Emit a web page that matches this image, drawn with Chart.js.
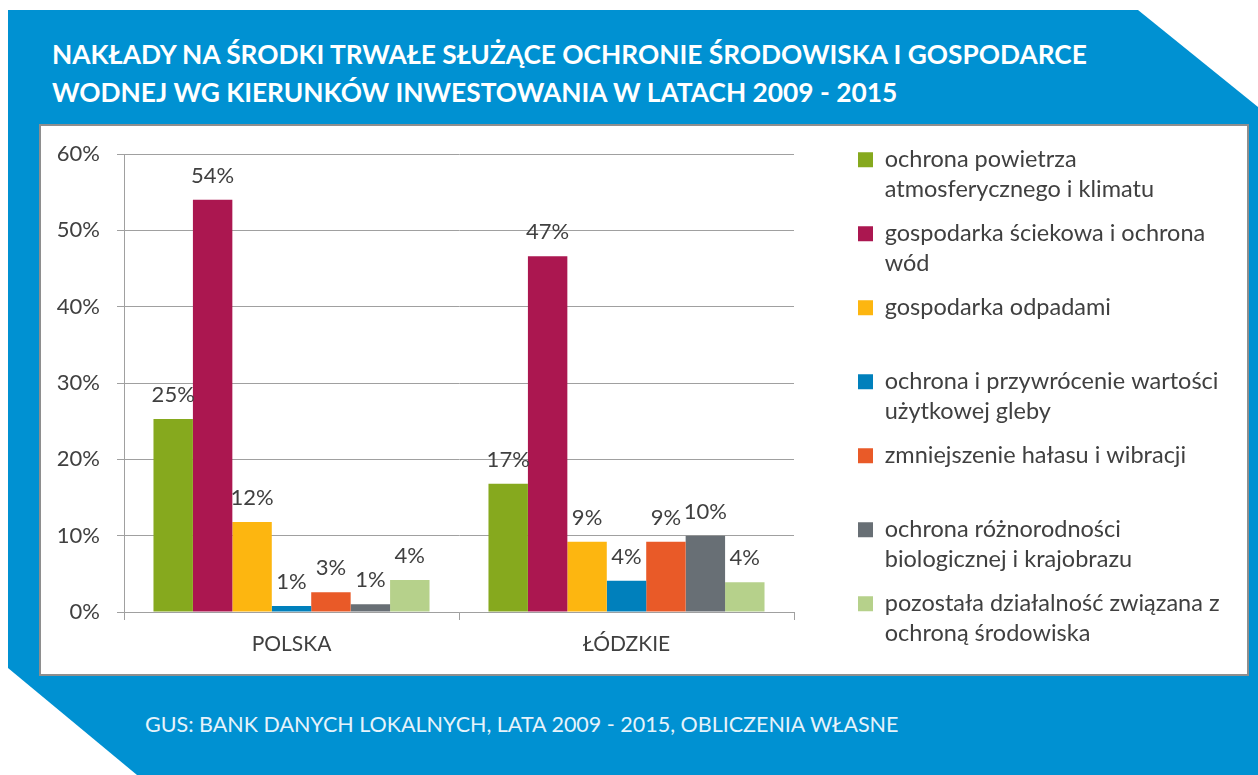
<!DOCTYPE html>
<html lang="pl">
<head>
  <meta charset="UTF-8">
  <title>Nakłady na środki trwałe służące ochronie środowiska</title>
  <script src="https://cdn.jsdelivr.net/npm/chart.js"></script>
  <style>
    body { margin: 0; width: 1258px; height: 775px; position: relative; overflow: hidden; background: #fff; font-family: Lato, sans-serif; }
    .bg { position: absolute; left: 0; top: 0; width: 1258px; height: 775px; background: #0091d2;
          clip-path: polygon(8px 10px, 1138px 10px, 1258px 107px, 1258px 775px, 137px 775px, 8px 668px); }
    h1 { position: absolute; left: 52px; top: 35px; margin: 0; color: #fff; font-size: 26.3px; line-height: 38px; font-weight: 700; white-space: nowrap; }
    .box { position: absolute; left: 39px; top: 124px; width: 1206px; height: 548px; background: #fff; border: 2px solid #8e8e8e; }
    canvas { display: block; }
    .src { position: absolute; left: 145px; top: 711px; color: #e6f3fb; font-size: 21.5px; white-space: nowrap; }
  </style>
</head>
<body>
  <div class="bg"></div>
  <h1>NAKŁADY NA ŚRODKI TRWAŁE SŁUŻĄCE OCHRONIE ŚRODOWISKA I GOSPODARCE<br>WODNEJ WG KIERUNKÓW INWESTOWANIA W LATACH 2009 - 2015</h1>
  <div class="box"><canvas id="chart" width="1206" height="548"></canvas></div>
  <div class="src">GUS: BANK DANYCH LOKALNYCH, LATA 2009 - 2015, OBLICZENIA WŁASNE</div>

  <script>
    const categories = ['POLSKA', 'ŁÓDZKIE'];
    const seriesLabels = [
      ['ochrona powietrza', 'atmosferycznego i klimatu'],
      ['gospodarka ściekowa i ochrona', 'wód'],
      ['gospodarka odpadami', ''],
      ['ochrona i przywrócenie wartości', 'użytkowej gleby'],
      ['zmniejszenie hałasu i wibracji', ''],
      ['ochrona różnorodności', 'biologicznej i krajobrazu'],
      ['pozostała działalność związana z', 'ochroną środowiska']
    ];
    // udział w %
    const polska = [25.3, 54.0, 11.8, 0.8, 2.6, 1.0, 4.2];
    const lodzkie = [16.8, 46.6, 9.2, 4.1, 9.2, 10.0, 3.9];
    const yTicks = [0, 10, 20, 30, 40, 50, 60];

    const colors = ['#86a91e', '#ab1750', '#fdb610', '#0080bc', '#e95a28', '#686f75', '#b6d18b'];
    const axisGray = '#a0a0a0';
    const textColor = '#404040';

    // legenda: stała szerokość i przesunięcie w prawo / w dół
    const legendOffset = {
      id: 'legendOffset',
      beforeLayout(chart) {
        const lg = chart.legend;
        if (lg && !lg._patched) {
          const fit = lg.fit;
          lg.fit = function () { fit.call(this); this.width = 453; };
          lg._patched = true;
        }
      },
      afterLayout(chart) {
        chart.legend.left += 50;
        chart.legend.top += 7;
      }
    };

    // etykiety wartości nad słupkami
    const barValueLabels = {
      id: 'barValueLabels',
      afterDatasetsDraw(chart) {
        const ctx = chart.ctx;
        ctx.save();
        ctx.font = '22px Lato, sans-serif';
        ctx.fillStyle = textColor;
        ctx.textAlign = 'center';
        ctx.textBaseline = 'alphabetic';
        chart.data.datasets.forEach((ds, i) => {
          chart.getDatasetMeta(i).data.forEach((bar, j) => {
            ctx.fillText(Math.round(ds.data[j]) + '%', bar.x, bar.y - 17);
          });
        });
        ctx.restore();
      }
    };

    function draw() {
      Chart.defaults.font.family = 'Lato, sans-serif';
      Chart.defaults.color = textColor;

      const datasets = seriesLabels.map((lines, i) => ({
        label: lines.join(' ').trim(),
        data: [polska[i], lodzkie[i]],
        backgroundColor: colors[i],
        borderWidth: 0
      }));

      new Chart(document.getElementById('chart'), {
        type: 'bar',
        data: { labels: categories, datasets },
        options: {
          responsive: false,
          animation: false,
          layout: { padding: { top: 1, left: 0, right: 0, bottom: 0 } },
          datasets: { bar: { categoryPercentage: 0.824, barPercentage: 1 } },
          scales: {
            x: {
              grid: { drawOnChartArea: false, tickLength: 8, color: axisGray },
              border: { color: axisGray },
              ticks: { padding: 12, color: textColor, font: { size: 21 } },
              afterFit: s => { s.height = 62; }
            },
            y: {
              min: yTicks[0],
              max: yTicks[yTicks.length - 1],
              afterBuildTicks: s => { s.ticks = yTicks.map(v => ({ value: v })); },
              ticks: { padding: 17, color: textColor, font: { size: 22, lineHeight: 1 }, callback: v => v + '%' },
              grid: { color: axisGray, tickLength: 7 },
              border: { color: axisGray },
              afterFit: s => { s.width = 83; }
            }
          },
          plugins: {
            legend: {
              position: 'right',
              align: 'start',
              labels: {
                boxWidth: 15,
                boxHeight: 15,
                padding: 14,
                color: textColor,
                font: { size: 23.5, lineHeight: '30px' },
                generateLabels: chart => Chart.defaults.plugins.legend.labels.generateLabels(chart)
                  .map((item, i) => ({ ...item, text: seriesLabels[i], lineWidth: 0 }))
              }
            },
            tooltip: { enabled: false }
          }
        },
        plugins: [legendOffset, barValueLabels]
      });
    }

    Promise.all([
      document.fonts.load('21px Lato'),
      document.fonts.load('bold 26px Lato')
    ]).then(draw, draw);
  </script>
</body>
</html>
